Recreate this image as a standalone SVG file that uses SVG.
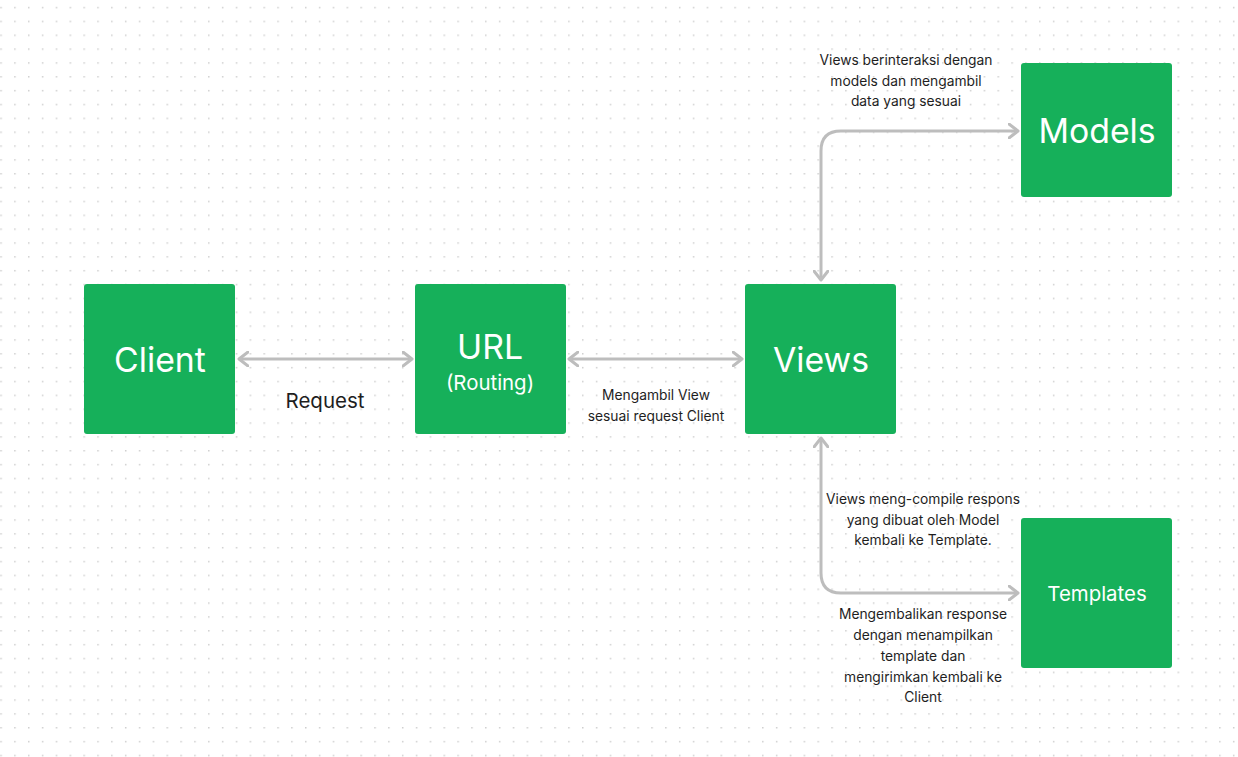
<svg xmlns="http://www.w3.org/2000/svg" width="1238" height="757" viewBox="0 0 1238 757">
<defs>
<pattern id="dots" x="0.3" y="6.8" width="13.85" height="13.85" patternUnits="userSpaceOnUse">
<rect x="0" y="0" width="1.5" height="1.5" fill="#cfcfcf"/>
</pattern>
<marker id="chev" viewBox="0 0 12 16" refX="10" refY="8" markerWidth="12" markerHeight="16" markerUnits="userSpaceOnUse" orient="auto-start-reverse">
<path d="M1,1 L10,8 L1,15" fill="none" stroke="#bdbdbd" stroke-width="3" stroke-linecap="round" stroke-linejoin="round"/>
</marker>
<style>
.box{fill:#16b05a;}
.big{font-family:Inter,"Liberation Sans",sans-serif;font-size:33.8px;fill:#fff;text-anchor:middle;}
.mid{font-family:Inter,"Liberation Sans",sans-serif;font-size:20.4px;fill:#fff;text-anchor:middle;}
.lbl{font-family:Inter,"Liberation Sans",sans-serif;font-size:13.8px;fill:#1e1e1e;text-anchor:middle;}
.lbl2{font-family:Inter,"Liberation Sans",sans-serif;font-size:20.5px;fill:#1e1e1e;text-anchor:middle;}
.con{fill:none;stroke:#bdbdbd;stroke-width:3;marker-start:url(#chev);marker-end:url(#chev);}
</style>
</defs>
<rect width="1238" height="757" fill="#fff"/>
<rect width="1238" height="757" fill="url(#dots)"/>
<g id="connectors">
<path class="con" d="M239,359 L412,359"/>
<path class="con" d="M569,359 L742,359"/>
<path class="con" d="M821,280 L821,151 Q821,131 841,131 L1018,131"/>
<path class="con" d="M821,438 L821,573 Q821,593 841,593 L1018,593"/>
</g>
<g id="client">
<rect class="box" x="84" y="284" width="151" height="150" rx="3"/>
<text class="big" x="160" y="372">Client</text>
</g>
<g id="url">
<rect class="box" x="415" y="284" width="151" height="150" rx="3"/>
<text class="big" x="490" y="359">URL</text>
<text class="mid" x="490" y="390">(Routing)</text>
</g>
<g id="views">
<rect class="box" x="745" y="284" width="151" height="150" rx="3"/>
<text class="big" x="821" y="372">Views</text>
</g>
<g id="models">
<rect class="box" x="1021" y="63" width="151" height="134" rx="3"/>
<text class="big" x="1097" y="143">Models</text>
</g>
<g id="templates">
<rect class="box" x="1021" y="518" width="151" height="150" rx="3"/>
<text class="mid" x="1097" y="601">Templates</text>
</g>
<g id="labels">
<text class="lbl2" x="325" y="408">Request</text>
<text class="lbl" x="656" y="400">Mengambil View</text>
<text class="lbl" x="656" y="421">sesuai request Client</text>
<text class="lbl" x="906" y="65">Views berinteraksi dengan</text>
<text class="lbl" x="906" y="86">models dan mengambil</text>
<text class="lbl" x="906" y="106">data yang sesuai</text>
<text class="lbl" x="923" y="504">Views meng-compile respons</text>
<text class="lbl" x="923" y="525">yang dibuat oleh Model</text>
<text class="lbl" x="923" y="545">kembali ke Template.</text>
<text class="lbl" x="923" y="619">Mengembalikan response</text>
<text class="lbl" x="923" y="640">dengan menampilkan</text>
<text class="lbl" x="923" y="661">template dan</text>
<text class="lbl" x="923" y="682">mengirimkan kembali ke</text>
<text class="lbl" x="923" y="702">Client</text>
</g>
</svg>
